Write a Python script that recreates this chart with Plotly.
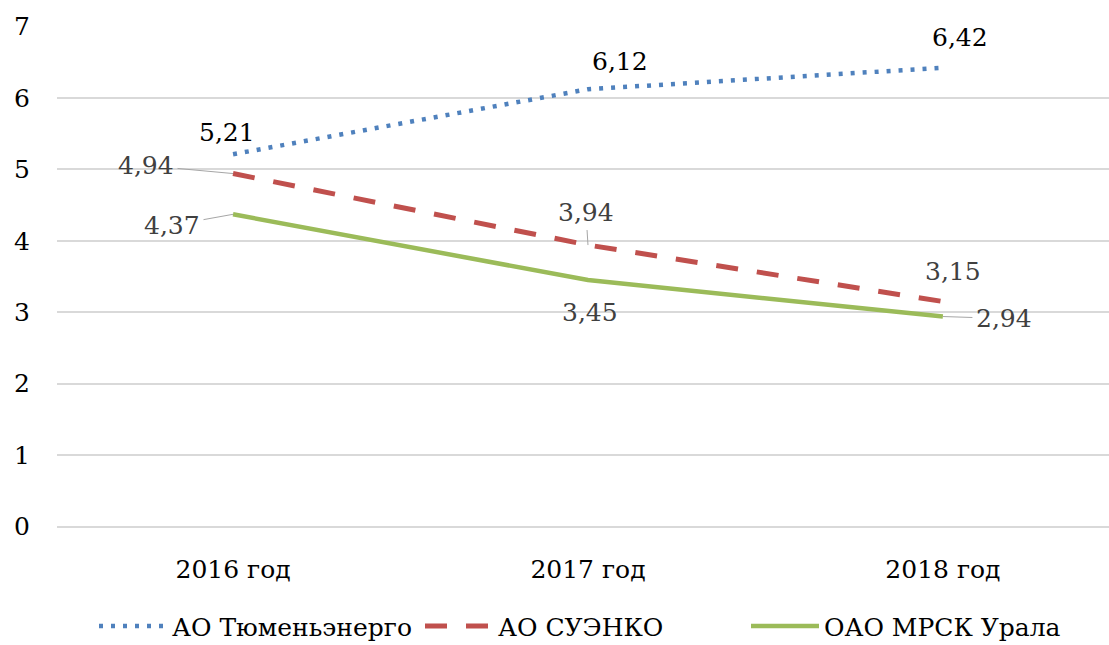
import plotly.graph_objects as go

categories = ["2016 год", "2017 год", "2018 год"]
tyumen = [5.21, 6.12, 6.42]
suenko = [4.94, 3.94, 3.15]
mrsk = [4.37, 3.45, 2.94]
series_names = ["АО Тюменьэнерго", "АО СУЭНКО", "ОАО МРСК Урала"]
y_ticks = [0, 1, 2, 3, 4, 5, 6, 7]

FONT = "DejaVu Serif"
FS = 25
xi = list(range(len(categories)))

fig = go.Figure()
fig.add_trace(go.Scatter(x=xi, y=tyumen, mode="lines", name=series_names[0],
                         line=dict(color="#4F81BD", width=4.5, dash="4px,8px")))
fig.add_trace(go.Scatter(x=xi, y=suenko, mode="lines", name=series_names[1],
                         line=dict(color="#C0504D", width=5, dash="22px,19px")))
fig.add_trace(go.Scatter(x=xi, y=mrsk, mode="lines", name=series_names[2],
                         line=dict(color="#9BBB59", width=4.5)))

def fmt(v):
    return f"{v:.2f}".replace(".", ",")

# label placement offsets (pixels): (dx, dy, leader)
place = {
    (0, 0): (-6, 22, False), (0, 1): (32, 28, False), (0, 2): (17, 30, False),
    (1, 0): (-87, 8, True), (1, 1): (-2, 33, True), (1, 2): (10, 30, False),
    (2, 0): (-61, -11, True), (2, 1): (2, -32, False), (2, 2): (61, -2, True),
}
label_colors = ["#000000", "#404040", "#404040"]
annotations = []
for si, vals in enumerate([tyumen, suenko, mrsk]):
    for ci, v in enumerate(vals):
        dx, dy, leader = place[(si, ci)]
        a = dict(x=ci, y=v, xref="x", yref="y", text=fmt(v),
                 font=dict(family=FONT, size=FS, color=label_colors[si]))
        if leader:
            a.update(showarrow=True, ax=dx, ay=-dy, arrowhead=0, arrowwidth=1,
                     arrowcolor="#A6A6A6", standoff=0, startstandoff=2)
        else:
            a.update(showarrow=False, xshift=dx, yshift=dy)
        annotations.append(a)

fig.update_layout(
    width=1109, height=645, autosize=False,
    paper_bgcolor="white", plot_bgcolor="white",
    margin=dict(l=57, r=0, t=26, b=118, autoexpand=False),
    font=dict(family=FONT, size=FS, color="#000000"),
    xaxis=dict(tickmode="array", tickvals=xi, ticktext=categories,
               range=[-0.496, 2.468], showgrid=False, zeroline=False,
               showline=False, ticks="", ticklabelstandoff=25,
               tickfont=dict(family=FONT, size=FS, color="#000000")),
    yaxis=dict(range=[-0.004, 7.004], tickvals=y_ticks, showgrid=True,
               gridcolor="#D9D9D9", gridwidth=1.5, zeroline=True,
               zerolinecolor="#D9D9D9", zerolinewidth=1.5,
               showline=False, ticks="", ticklabelstandoff=26,
               tickfont=dict(family=FONT, size=FS, color="#000000")),
    legend=dict(orientation="h", x=0.5, xanchor="center", y=-0.198, yanchor="middle",
                font=dict(family=FONT, size=FS, color="#000000"),
                itemwidth=68, entrywidth=243, entrywidthmode="pixels",
                tracegroupgap=0),
    annotations=annotations,
    showlegend=True,
)

fig.write_html("out.html")
